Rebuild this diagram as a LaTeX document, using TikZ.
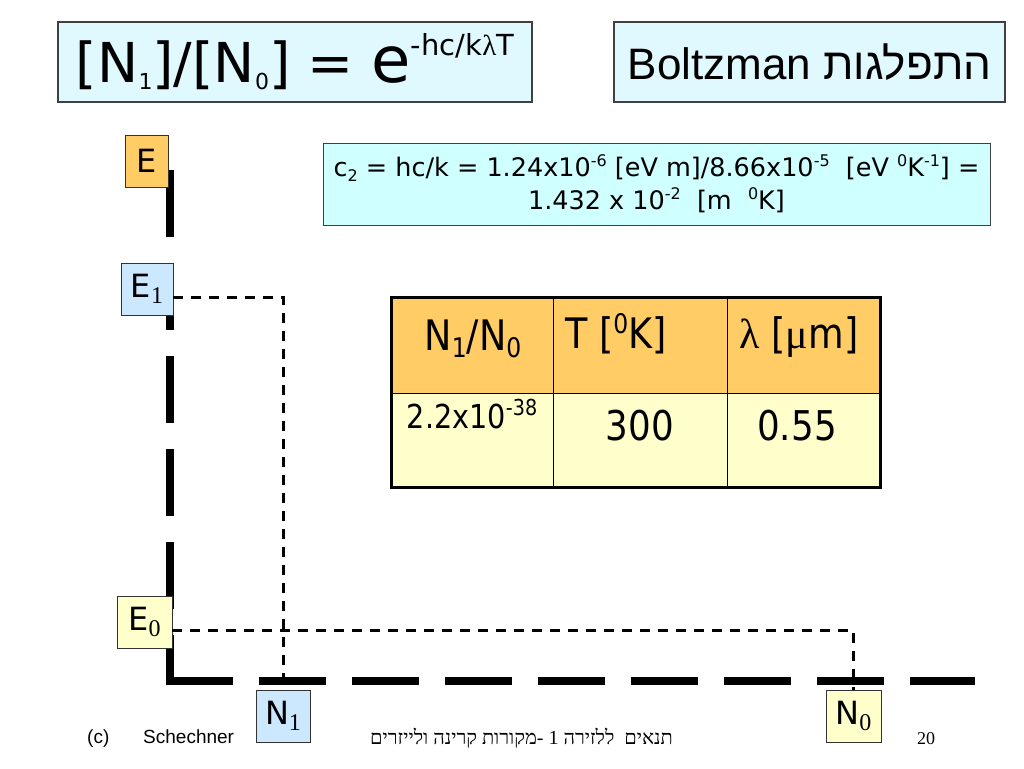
\documentclass[tikz,border=0pt]{standalone}
\usepackage{fontspec}
\usepackage{tikz}
\setmainfont{DejaVu Sans}
\newfontfamily\tahomafont[FakeStretch=0.87]{DejaVu Sans}
\newfontfamily\arialfont{Liberation Sans}
\newfontfamily\timesfont{Liberation Serif}
\newfontfamily\hebsans[Script=Hebrew]{Liberation Sans}
\newfontfamily\hebserif[Script=Hebrew]{Liberation Serif}
\TeXXeTstate=1
\newcommand\fs[1]{\fontsize{#1}{#1}\selectfont}
\newcommand\up[3]{\raisebox{#1pt}{\fs{#2}#3}}
\newcommand\dn[3]{\raisebox{-#1pt}{\fs{#2}#3}}
\definecolor{paleCyan}{RGB}{224,249,255}
\definecolor{cyanBox}{RGB}{208,255,255}
\definecolor{gold}{RGB}{255,204,102}
\definecolor{cream}{RGB}{255,255,204}
\definecolor{skyBlue}{RGB}{204,232,255}
\tikzstyle{titlebox}=[draw=black!75,line width=1.2pt,fill=paleCyan,inner sep=0pt]
\tikzstyle{levelbox}=[draw=black!80,line width=0.8pt,inner sep=0pt,minimum height=52pt]
\tikzstyle{lbl}=[inner sep=0pt]

\begin{document}
\begin{tikzpicture}[x=1pt,y=-1pt]
    \tikzstyle{axis}=[line width=8pt,dash pattern=on 67pt off 26pt]
    \tikzstyle{levelline}=[line width=3pt,dash pattern=on 10pt off 8pt]
    \tikzstyle{headcell}=[draw,line width=0.8pt,fill=gold,minimum height=95pt]
    \tikzstyle{bodycell}=[draw,line width=0.8pt,fill=cream,minimum height=94pt]
    \fill[white] (0,0) rectangle (1024,768);
    \useasboundingbox (0,0) rectangle (1024,768);
    % headings
    \node[titlebox,minimum width=474pt,minimum height=80pt] (law) at (295,62)
        {\fs{55}[N\dn{7}{22}{1}]/[N\dn{7}{22}{0}] = {\fs{64}e}\up{27}{29}{-hc/k{\timesfont λ}T}};
    \node[titlebox,minimum width=391pt,minimum height=80pt] (name) at (809.5,62)
        {\arialfont\fs{44}Boltzman {\hebsans\beginR התפלגות\endR}};
    \node[draw=black!75,line width=0.8pt,fill=cyanBox,minimum width=667pt,minimum height=82pt,align=center,inner sep=0pt,
          font=\fontsize{25.5}{33}\selectfont] (ctwo) at (656.5,184)
        {c\dn{5}{16}{2} = hc/k = 1.24x10\up{10}{16}{-6} [eV m]/8.66x10\up{10}{16}{-5}\ \ [eV \up{10}{16}{0}K\up{10}{16}{-1}] =\\
         1.432 x 10\up{10}{16}{-2}\ \ [m\ \ \up{10}{16}{0}K]};
    % axes
    \coordinate (top) at (170,170);
    \coordinate (origin) at (170,681);
    \coordinate (far) at (975,681);
    \draw[axis] (top) -- (origin);
    \draw[axis] ([xshift=-4pt]origin) -- (far);
    % levels
    \node[levelbox,fill=gold,minimum width=43pt] (E) at (146.5,161) {\fs{32}E};
    \node[levelbox,fill=skyBlue,minimum width=52pt] (E1) at (147,289) {\fs{32}E\dn{6}{24}{\timesfont 1}};
    \node[levelbox,fill=cream,minimum width=55pt] (E0) at (144.5,622) {\fs{32}E\dn{6}{24}{\timesfont 0}};
    \node[levelbox,fill=skyBlue,minimum width=54pt] (N1) at (283,716) {\fs{32}N\dn{6}{24}{\timesfont 1}};
    \node[levelbox,fill=cream,minimum width=55pt] (N0) at (853.5,716) {\fs{32}N\dn{6}{24}{\timesfont 0}};
    \draw[levelline,shorten >=9pt] ([yshift=-8pt]E1.east) -| (N1.north);
    \draw[levelline] ([yshift=-8pt]E0.east) -| (N0.north);
    % table
    \node[headcell,minimum width=161pt] (h1) at (472.5,345.5) {};
    \node[headcell,minimum width=174pt] (h2) at (640,345.5) {};
    \node[headcell,minimum width=153pt] (h3) at (803.5,345.5) {};
    \node[bodycell,minimum width=161pt] (b1) at (472.5,440) {};
    \node[bodycell,minimum width=174pt] (b2) at (640,440) {};
    \node[bodycell,minimum width=153pt] (b3) at (803.5,440) {};
    \draw[line width=3pt] (h1.north west) rectangle (b3.south east);
    \node[lbl,anchor=base] (ratio) at (473,350) {\tahomafont\fs{42}N\dn{7}{27}{1}/N\dn{7}{27}{0}};
    \node[lbl,anchor=base west] (temp) at (565,348) {\tahomafont\fs{42}T [\up{15}{27}{0}K]};
    \node[lbl,anchor=base] (wave) at (799,348) {\tahomafont\fs{42}{\timesfont λ} [{\timesfont μ}m]};
    \node[lbl,anchor=base] (ratioval) at (472,428) {\tahomafont\fs{33}2.2x10\up{13}{22}{-38}};
    \node[lbl,anchor=base] (tempval) at (640,440) {\tahomafont\fs{41}300};
    \node[lbl,anchor=base] (waveval) at (797,440) {\tahomafont\fs{41}0.55};
    % footer
    \node[lbl,anchor=base west] (copy) at (87,743) {\arialfont\fs{19}(c)};
    \node[lbl,anchor=base west] (author) at (143,743) {\arialfont\fs{19}Schechner};
    \node[lbl,anchor=base west] (course) at (370,744)
        {\hebserif\fs{20}\beginR תנאים\ \ ללזירה 1 -מקורות קרינה ולייזרים\endR};
    \node[lbl,anchor=base west] (page) at (917,744) {\timesfont\fs{18}20};
\end{tikzpicture}
\end{document}
